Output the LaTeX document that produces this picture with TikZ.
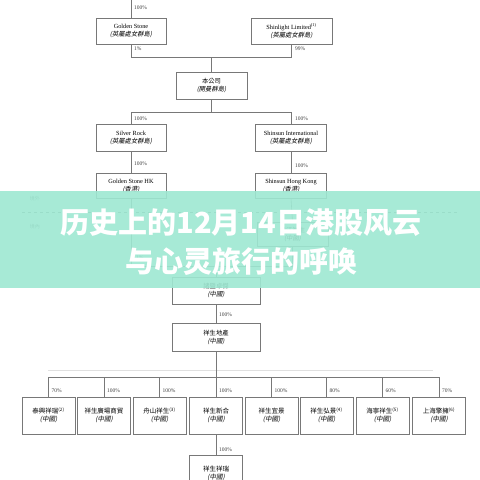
\documentclass[tikz,border=0pt]{standalone}
\usepackage{fontspec}
\setmainfont{Liberation Serif}
\newfontfamily\cjk{Noto Sans CJK TC}
\newfontfamily\cjkit{Noto Sans CJK TC}[FakeSlant=0.2]
\newfontfamily\titlefont{Noto Sans CJK SC}
\definecolor{mint}{RGB}{158,232,210}
\definecolor{ln}{RGB}{120,120,120}
\begin{document}
\begin{tikzpicture}[x=1pt,y=-1pt,
  box/.style={draw=ln, line width=0.6pt, fill=white, inner sep=0pt, align=center,
    font=\fontsize{6.3}{8}\selectfont},
  bbox/.style={box, minimum width=53pt, minimum height=37pt, font=\fontsize{6.5}{8}\selectfont},
  conn/.style={draw=ln, line width=0.6pt},
  pct/.style={font=\fontsize{5.5}{6}\selectfont, anchor=west, inner sep=0pt, text=black!75},
  titletext/.style={font=\titlefont\bfseries\fontsize{29}{30}\selectfont, inner sep=0pt}
]
\useasboundingbox (0,0) rectangle (480,480);
\fill[white] (0,0) rectangle (480,480);

% ---- top part ----
\coordinate (t0) at (131,0);
\node[box, minimum width=70pt, minimum height=26pt] (gs) at (131,31)
  {Golden Stone\\{\cjkit (英屬處女群島)}};
\node[box, minimum width=81pt, minimum height=26pt] (sl) at (291.5,31)
  {Shinlight Limited\textsuperscript{(1)}\\{\cjkit (英屬處女群島)}};
\node[box, minimum width=71pt, minimum height=27pt] (co) at (211.5,85.5)
  {{\cjk 本公司}\\{\cjkit (開曼群島)}};
\node[box, minimum width=70pt, minimum height=27pt] (sr) at (131,137.5)
  {Silver Rock\\{\cjkit (英屬處女群島)}};
\node[box, minimum width=71pt, minimum height=27pt] (si) at (291,137.5)
  {Shinsun International\\{\cjkit (英屬處女群島)}};
\node[box, minimum width=70pt, minimum height=25pt] (gshk) at (131,185.5)
  {Golden Stone HK\\{\cjkit (香港)}};
\node[box, minimum width=71pt, minimum height=25pt] (sshk) at (291,185.5)
  {Shinsun Hong Kong\\{\cjkit (香港)}};
\node[box, minimum width=71pt, minimum height=24pt] (zjxs) at (292.5,234)
  {{\cjk 浙江祥生}\\{\cjkit (中國)}};
\node[box, minimum width=88pt, minimum height=27pt] (zj) at (216,290.5)
  {{\cjk 諸暨卓傑}\\{\cjkit (中國)}};
\node[box, minimum width=88pt, minimum height=28pt] (dc) at (216,337)
  {{\cjk 祥生地產}\\{\cjkit (中國)}};

% connectors top
\draw[conn] (t0) -- (gs.north);
\node[pct] at (134,8) {100\%};
\coordinate (j1l) at (131,57);
\coordinate (j1r) at (291.5,57);
\coordinate (j1c) at (211.5,57);
\draw[conn] (gs.south) -- (j1l) -- (j1r) -- (sl.south);
\draw[conn] (j1c) -- (co.north);
\node[pct] at (134,49) {1\%};
\node[pct] at (295,49) {99\%};
\coordinate (j2c) at (211.5,112);
\coordinate (j2l) at (131,112);
\coordinate (j2r) at (291,112);
\draw[conn] (co.south) -- (j2c);
\draw[conn] (sr.north) -- (j2l) -- (j2r) -- (si.north);
\node[pct] at (134,119) {100\%};
\node[pct] at (295,119) {100\%};
\draw[conn] (sr.south) -- (gshk.north);
\node[pct] at (134,164) {100\%};
\draw[conn] (si.south) -- (sshk.north);
\node[pct] at (295,166) {100\%};
\draw[conn] (sshk.south) -- (zjxs.north);
\coordinate (j3l) at (131,266);
\coordinate (j3r) at (292.5,266);
\coordinate (j3c) at (216,266);
\draw[conn] (gshk.south) -- (j3l) -- (j3r) -- (zjxs.south);
\draw[conn] (j3c) -- (zj.north);
\node[pct] at (136,258) {1\%};
\draw[conn] (zj.south) -- (dc.north);
\node[pct] at (219,315) {100\%};

% boundary
\node[font=\cjk\fontsize{5}{6}\selectfont, text=black!60] (jw) at (35,199) {境外};
\node[font=\cjk\fontsize{5}{6}\selectfont, text=black!60] (jn) at (35,227) {境內};
\draw[ln, dashed, line width=0.5pt] (22,212) -- (458,212);

% bottom row
\draw[black!12, line width=0.5pt] (48,370) -- (433,370);
\coordinate (j4c) at (216,377);
\draw[conn] (dc.south) -- (j4c);
\foreach \i/\x/\p/\t in {
  1/48.5/70/{泰興祥瑞\textsuperscript{(2)}},
  2/104/100/{祥生廣場商貿},
  3/159.5/100/{舟山祥生\textsuperscript{(3)}},
  4/216/100/{祥生新合},
  5/271.5/100/{祥生宜景},
  6/326.5/80/{祥生弘景\textsuperscript{(4)}},
  7/382.5/60/{海寧祥生\textsuperscript{(5)}},
  8/439/70/{上海擎擁\textsuperscript{(6)}}}{
  \node[bbox] (b\i) at (\x,415.5) {{\cjk \t}\\{\cjkit (中國)}};
  \coordinate (h\i) at (\x,377);
  \draw[conn] (h\i) -- (b\i.north);
  \node[pct] at (\x+3,391) {\p\%};
}
\draw[conn] (h1) -- (h8);
\node[bbox] (xr) at (216,473.5) {{\cjk 祥生祥瑞}\\{\cjkit (中國)}};
\draw[conn] (b4.south) -- (xr.north);
\node[pct] at (219,450) {100\%};

% banner
\fill[mint, opacity=0.9] (0,191) rectangle (480,288);
\node[titletext, text=white] (t1) at (241,223) {历史上的12月14日港股风云};
\node[titletext, text=white] (t2) at (241,262) {与心灵旅行的呼唤};
\end{tikzpicture}
\end{document}
